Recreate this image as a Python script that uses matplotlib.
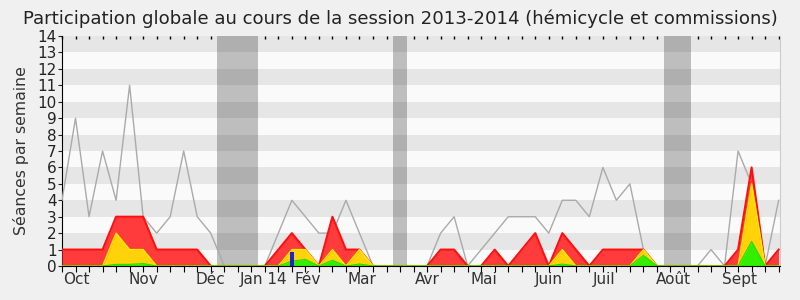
import numpy as np
import matplotlib
matplotlib.use("Agg")
import matplotlib.pyplot as plt
import matplotlib.transforms as mtransforms

plt.rcParams['font.family'] = ['DejaVu Sans']

# weekly values, weeks 0..53 (Oct 2013 -> Sept 2014)
seances_total = [4, 9, 3, 7, 4, 11, 3, 2, 3, 7, 3, 2, 0, 0, 0, 0, 2, 4, 3, 2,
                 2, 4, 2, 0, 0, 0, 0, 0, 2, 3, 0, 1, 2, 3, 3, 3, 2, 4, 4, 3,
                 6, 4, 5, 1, 0, 0, 0, 0, 1, 0, 7, 5, 0, 4]
presences = [1, 1, 1, 1, 3, 3, 3, 1, 1, 1, 1, 0, 0, 0, 0, 0, 1, 2, 1, 0,
             3, 1, 1, 0, 0, 0, 0, 0, 1, 1, 0, 0, 1, 0, 1, 2, 0, 2, 1, 0,
             1, 1, 1, 1, 0, 0, 0, 0, 0, 0, 1, 6, 0, 1]
interventions = [0, 0, 0, 0, 2, 1, 1, 0, 0, 0, 0, 0, 0, 0, 0, 0, 0, 1, 1, 0,
                 1, 0, 1, 0, 0, 0, 0, 0, 0, 0, 0, 0, 0, 0, 0, 0, 0, 1, 0, 0,
                 0, 0, 0, 1, 0, 0, 0, 0, 0, 0, 0, 5, 0, 0]
longues = [0, 0, 0, 0, 0.1, 0.1, 0.15, 0, 0, 0, 0, 0, 0, 0, 0, 0, 0, 0.3, 0.4, 0,
           0.35, 0, 0.12, 0, 0, 0, 0, 0, 0, 0, 0, 0, 0, 0, 0, 0, 0, 0.12, 0, 0,
           0, 0, 0, 0.65, 0, 0, 0, 0, 0, 0, 0, 1.5, 0, 0]
questions_semaine = [17]
questions_valeur = [0.85]
vacances = [(11.5, 14.5), (24.5, 25.5), (44.5, 46.5)]
mois_labels = ['Oct', 'Nov', 'Déc', 'Jan 14', 'Fév', 'Mar', 'Avr', 'Mai',
               'Juin', 'Juil', 'Août', 'Sept']
mois_pos = [1.08, 6.0, 11.0, 14.94, 18.2, 22.2, 27.0, 31.2, 36.0, 40.1, 45.2, 50.1]
ymax = 14

weeks = np.arange(len(seances_total))

fig = plt.figure(figsize=(8, 3), dpi=100, facecolor='#f0f0f0')
ax = fig.add_axes([0.0775, 0.1133, 0.8975, 0.7667])
ax.set_facecolor('#fafafa')

# vacation bands
for a, b in vacances:
    ax.axvspan(a, b, color='#bebebe', zorder=1, lw=0)
# horizontal stripes
for k in range(1, ymax, 2):
    ax.axhspan(k, k + 1, color='black', alpha=0.08, zorder=2, lw=0)

ax.plot(weeks, seances_total, color='#aaaaaa', lw=1, zorder=3)
ax.fill_between(weeks, 0, presences, color='#ff3b3b', lw=0, zorder=4)
ax.plot(weeks, presences, color='#ff1010', lw=1.5, zorder=4.1)
ax.fill_between(weeks, 0, interventions, color='#ffd20a', lw=0, zorder=5)
ax.plot(weeks, interventions, color='#ffee00', lw=1, zorder=5.1)
ax.fill_between(weeks, 0, longues, color='#33ee00', lw=0, zorder=6)
ax.plot(weeks, longues, color='#22dd00', lw=0.8, zorder=6.1)
ax.bar(questions_semaine, questions_valeur, width=0.35, color='#2222cc', zorder=7)

ax.set_xlim(0, 53.1)
ax.set_ylim(0, ymax)
ax.set_yticks(range(0, ymax + 1))
ax.tick_params(axis='y', labelsize=11, length=3, pad=1, colors='#222222')
ax.set_xticks(weeks)
ax.set_xticklabels([])
ax.tick_params(axis='x', which='major', length=4, direction='out')

trans = mtransforms.blended_transform_factory(ax.transData, ax.transAxes)
for lab, pos in zip(mois_labels, mois_pos):
    ax.text(pos, -0.025, lab, transform=trans, ha='center', va='top',
            fontsize=11, color='#333333')

sec = ax.secondary_xaxis('top')
sec.set_xticks(weeks)
sec.set_xticklabels([])
sec.tick_params(direction='in', length=2, width=1, color='black')
sec.spines['top'].set_visible(False)

ax.spines['top'].set_visible(False)
ax.spines['right'].set_color('#cccccc')
ax.spines['left'].set_color('black')
ax.spines['bottom'].set_color('black')
ax.spines['bottom'].set_zorder(8)

ax.set_ylabel('Séances par semaine', fontsize=11.3, color='#333333', labelpad=6)
fig.suptitle('Participation globale au cours de la session 2013-2014 (hémicycle et commissions)',
             fontsize=13.1, y=0.97, color='#222222')

fig.savefig('out.png', dpi=100, facecolor=fig.get_facecolor())
